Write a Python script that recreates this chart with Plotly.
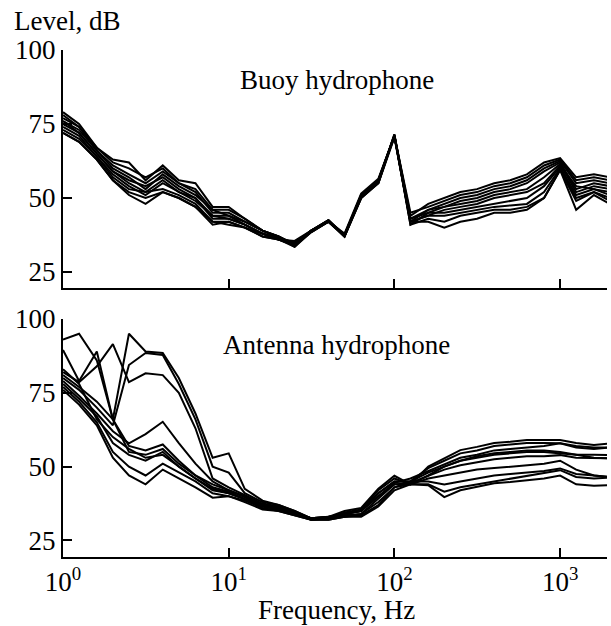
import plotly.graph_objects as go
from plotly.subplots import make_subplots

freq_hz = [1, 1.25, 1.6, 2, 2.5, 3.15, 4, 5, 6.3, 8, 10, 12.5, 16, 20, 25, 31.5, 40, 50, 63, 80,
           100, 125, 160, 200, 250, 315, 400, 500, 630, 800, 1000, 1250, 1600, 2000]

# Buoy hydrophone spectra, dB
buoy_1 = [79, 75, 67, 63, 62, 56, 61, 56, 55, 47, 47, 43, 39, 37, 34, 39, 42.5, 37.5, 51, 56, 71,
          44, 48, 50, 52, 53, 55, 56, 58, 62, 63.5, 57, 58, 57]
buoy_2 = [78, 74, 67, 62, 60, 57, 60, 55, 53, 46, 46, 43, 39, 37, 34.5, 39, 42, 37.5, 50.5, 56, 71,
          45, 47, 49, 51, 52, 54, 55, 57, 61, 63, 56, 57, 56]
buoy_3 = [77, 74, 66, 61, 58, 55, 59, 55, 52, 45, 45, 42, 39, 37, 34, 38.5, 42, 37, 50, 55.5, 71.5,
          43, 46, 48, 50, 51, 53, 54, 56, 60, 62.5, 55, 56, 55]
buoy_4 = [76, 73, 66, 60, 57, 53, 58, 54, 51, 46, 44, 42, 39, 36.5, 35, 39, 42.5, 37, 51, 55, 71,
          42, 46, 47, 49, 50, 52, 53, 55, 59, 62, 53, 55, 54]
buoy_5 = [76, 72, 65, 59, 56, 54, 57, 53, 50, 44, 44, 41, 38, 36.5, 33.5, 39, 42, 38, 51.5, 56.5, 71,
          43, 45, 47, 48, 49, 51, 52, 53, 57, 61.5, 52, 54, 53]
buoy_6 = [75, 72, 65, 59, 55, 52, 56, 52, 50, 43, 43, 41, 38, 36, 34, 38.5, 42, 37.5, 50, 55, 70.5,
          42, 44, 46, 47, 48, 50, 51, 52, 55, 61, 54, 53, 52]
buoy_7 = [74, 71, 64, 58, 54, 51, 55, 52, 49, 44, 43, 41, 38, 36, 35.5, 39, 42.5, 37, 50.5, 56, 71,
          41, 45, 45, 46, 47, 48, 49, 50, 54, 60.5, 51, 53, 51]
buoy_8 = [73, 70, 64, 57, 53, 52, 53, 51, 48, 42, 42, 40, 38, 36, 34, 39, 42, 37.5, 51, 55.5, 71,
          42, 44, 44, 45, 46, 47, 47.5, 48, 52, 60, 50, 52, 50]
buoy_9 = [72, 69, 63, 56, 52, 50, 52, 50, 47, 41, 42, 40, 37, 36, 33.5, 38.5, 42, 37, 50, 55, 71.5,
          41, 43, 42, 44, 45, 46, 46, 47, 50, 59.5, 49, 52, 49]
buoy_10 = [72, 69, 63, 56, 51, 48, 52, 50, 47, 42, 41, 40, 37, 36, 34.5, 39, 42.5, 37.5, 51, 56, 71,
           42, 42, 40, 42, 43, 45, 45, 46, 50, 59.5, 46, 51, 48]

# Antenna hydrophone spectra, dB
ant_1 = [93, 95, 86, 66, 57, 55.5, 57.5, 52, 47, 44, 42, 39.5, 37, 36, 34.5, 32.5, 32.5, 34, 35, 41,
         45, 45, 48, 50, 52, 53.5, 54.5, 55, 55.5, 55.5, 55, 54, 53, 52.8]
ant_2 = [89.5, 79, 89, 66, 55, 54, 56, 51, 47, 43, 41.5, 39, 37, 36, 34, 32.5, 32.5, 34.5, 35.5, 42,
         46, 44, 46, 47, 48, 49, 49.5, 50, 50.5, 51, 52, 49, 47, 46.5]
ant_3 = [82, 78.6, 84, 91.5, 78.6, 81.6, 81, 75, 63, 46, 43, 40.5, 37.5, 36.5, 34.5, 32.5, 33, 34, 35, 40,
         44, 44, 47, 50, 52, 53, 54, 54.5, 55, 55, 54.5, 54, 54, 53.9]
ant_4 = [81, 77, 72, 66, 95, 89, 88.5, 80, 68, 53, 54.5, 42.5, 38.5, 37, 35, 32.5, 33, 35, 36, 42.5,
         46.9, 44, 50, 52.9, 55.6, 56.7, 58, 58.4, 59, 59, 59, 58, 57.3, 57.9]
ant_5 = [80, 76, 70, 64, 84.4, 88.5, 87.8, 78, 66, 50, 48, 41, 38, 37, 35, 32.5, 33, 34, 35, 41,
         45, 45, 49.5, 52, 54.5, 55.5, 57, 57.5, 58, 58, 57.9, 57, 56.5, 56.5]
ant_6 = [79, 74, 68, 62, 57.9, 61, 65.2, 58, 51, 45, 42, 40, 37, 36, 34, 32, 32.5, 33.5, 34, 39,
         44, 44.5, 47, 49, 50.5, 51.5, 52.5, 53, 53.5, 53.5, 53.9, 53, 53, 52.8]
ant_7 = [78, 73, 67, 58, 54, 52, 55, 50, 46, 42, 41, 39, 36.5, 35.5, 34, 32, 32.5, 33, 34, 38,
         43, 45, 45, 44, 45, 46, 47, 47.5, 48, 48.5, 49.4, 47.5, 47, 46.5]
ant_8 = [77, 72, 65, 55, 50, 47, 51, 48, 45, 41, 40, 38.5, 36, 35, 33.5, 32, 32, 33, 33.5, 37,
         43, 44, 44, 41.5, 43, 44, 45, 46, 47, 48, 48.8, 46.5, 46, 46.3]
ant_9 = [76, 71, 64, 53, 47, 44, 49, 46, 43, 39.5, 40, 38, 35.5, 35, 33.5, 32, 32, 33, 33, 36.5,
         42, 44, 43.7, 39.7, 42, 43.2, 44.4, 44.8, 45.5, 46, 47, 44, 43.5, 43.7]
ant_10 = [83, 78, 66, 60, 56, 53, 54, 50, 46, 42.5, 41, 39, 36.5, 35.5, 34, 32.5, 32.5, 34, 35, 40,
          44.5, 46, 48.5, 51, 53, 54, 55.5, 56, 56.5, 57, 57.9, 56.5, 56, 56.5]

buoy_series = [buoy_1, buoy_2, buoy_3, buoy_4, buoy_5, buoy_6, buoy_7, buoy_8, buoy_9, buoy_10]
ant_series = [ant_1, ant_2, ant_3, ant_4, ant_5, ant_6, ant_7, ant_8, ant_9, ant_10]

y_ticks = [25, 50, 75, 100]
x_ticks = [1, 10, 100, 1000]
x_tick_text = ["10<sup>0</sup>", "10<sup>1</sup>", "10<sup>2</sup>", "10<sup>3</sup>"]

panel_titles = ["Buoy hydrophone", "Antenna hydrophone"]
x_title = "Frequency, Hz"
y_title = "Level, dB"

FONT = "Liberation Serif"
FS = 27
W, H = 611, 626
ML, MR, MT, MB = 63, 4, 50, 69
PH = H - MT - MB
panel_px = 238
top_dom = [(PH - panel_px) / PH, 1.0]
bot_dom = [0.0, panel_px / PH]

fig = make_subplots(rows=2, cols=1)
for s in buoy_series:
    fig.add_trace(go.Scatter(x=freq_hz, y=s, mode="lines",
                             line=dict(color="black", width=2), showlegend=False), row=1, col=1)
for s in ant_series:
    fig.add_trace(go.Scatter(x=freq_hz, y=s, mode="lines",
                             line=dict(color="black", width=2), showlegend=False), row=2, col=1)

xcommon = dict(type="log", range=[0, 3.283], showline=True, linecolor="black", linewidth=2,
               ticks="inside", ticklen=9, tickwidth=2, tickcolor="black",
               tickvals=x_ticks, showgrid=False, zeroline=False)
ycommon = dict(showline=True, linecolor="black", linewidth=2,
               ticks="inside", ticklen=9, tickwidth=2, tickcolor="black",
               tickvals=y_ticks, showgrid=False, zeroline=False,
               tickfont=dict(family=FONT, size=FS, color="black"))

fig.update_xaxes(**xcommon, showticklabels=False, domain=[0, 1], row=1, col=1)
fig.update_xaxes(**xcommon, ticktext=x_tick_text, showticklabels=True, domain=[0, 1],
                 tickfont=dict(family=FONT, size=FS, color="black"), row=2, col=1)
fig.update_yaxes(**ycommon, range=[19.6, 100], domain=top_dom, row=1, col=1)
fig.update_yaxes(**ycommon, range=[19.4, 100], domain=bot_dom, row=2, col=1)

def px_to_paper_y(ypx):
    return (H - MB - ypx) / PH

def px_to_paper_x(xpx):
    return (xpx - ML) / (W - ML - MR)

ann_font = dict(family=FONT, size=FS, color="black")
annotations = [
    dict(text=panel_titles[0], x=px_to_paper_x(337), y=px_to_paper_y(80)),
    dict(text=panel_titles[1], x=px_to_paper_x(336), y=px_to_paper_y(345)),
    dict(text=x_title, x=px_to_paper_x(336), y=px_to_paper_y(610)),
]
for a in annotations:
    fig.add_annotation(xref="paper", yref="paper", showarrow=False, xanchor="center",
                       yanchor="middle", font=ann_font, **a)
fig.add_annotation(text=y_title, xref="paper", yref="paper", x=px_to_paper_x(12),
                   y=px_to_paper_y(21), xanchor="left", yanchor="middle", showarrow=False,
                   font=ann_font)

fig.update_layout(width=W, height=H, margin=dict(l=ML, r=MR, t=MT, b=MB),
                  plot_bgcolor="white", paper_bgcolor="white", showlegend=False)

fig.write_html("out.html")
